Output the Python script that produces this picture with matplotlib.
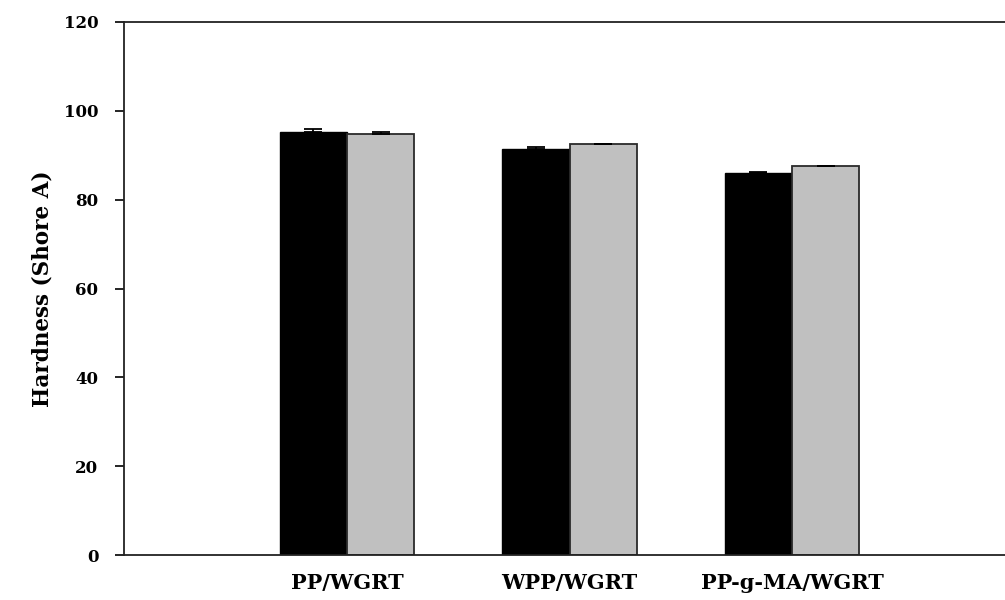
import matplotlib
matplotlib.use("Agg")
import matplotlib.pyplot as plt
import numpy as np

# Shore A hardness of the blends
categories = ["PP/WGRT", "WPP/WGRT", "PP-g-MA/WGRT"]
series_a = [95.3, 91.3, 85.9]
series_a_err = [0.7, 0.5, 0.4]
series_b = [94.8, 92.5, 87.6]
series_b_err = [0.35, 0.0, 0.0]
y_ticks = [0, 20, 40, 60, 80, 100, 120]

plt.rcParams["font.family"] = ["DejaVu Serif"]
plt.rcParams["font.weight"] = "bold"

fig = plt.figure(figsize=(10.05, 6.0), dpi=100)
ax = fig.add_axes([124 / 1005, 45 / 600, 1 - 124 / 1005, 533 / 600])

x = np.arange(len(categories))
w = 0.303

ax.bar(x - w / 2, series_a, width=w, color="black", edgecolor="black",
       linewidth=1.0, zorder=2)
ax.bar(x + w / 2, series_b, width=w, color="#c0c0c0", edgecolor="#2a2a2a",
       linewidth=1.3, zorder=2)

zeros = [0] * len(categories)
ax.errorbar(x - w / 2, series_a, yerr=[zeros, series_a_err], fmt="none",
            ecolor="black", elinewidth=1.3, capsize=6.5, capthick=1.3, zorder=3)
ax.errorbar(x + w / 2, series_b, yerr=[zeros, series_b_err], fmt="none",
            ecolor="black", elinewidth=1.3, capsize=6.5, capthick=1.3, zorder=3)

ax.set_xlim(-1.002, 2.957)
ax.set_ylim(0, 120)
ax.set_yticks(y_ticks)
ax.set_yticklabels([str(t) for t in y_ticks], fontsize=12, fontweight="bold")
ax.set_xticks(x)
ax.set_xticklabels(categories, fontsize=15, fontweight="bold")
ax.tick_params(axis="x", length=0, pad=13)
ax.tick_params(axis="y", direction="out", length=6.5, width=1.2, pad=12)

for side in ("left", "bottom", "top"):
    ax.spines[side].set_linewidth(1.3)
    ax.spines[side].set_color("#222222")
ax.spines["right"].set_visible(False)

ax.set_ylabel("Hardness (Shore A)", fontsize=15.5, fontweight="bold", labelpad=7)

fig.savefig("out.png", dpi=100)
